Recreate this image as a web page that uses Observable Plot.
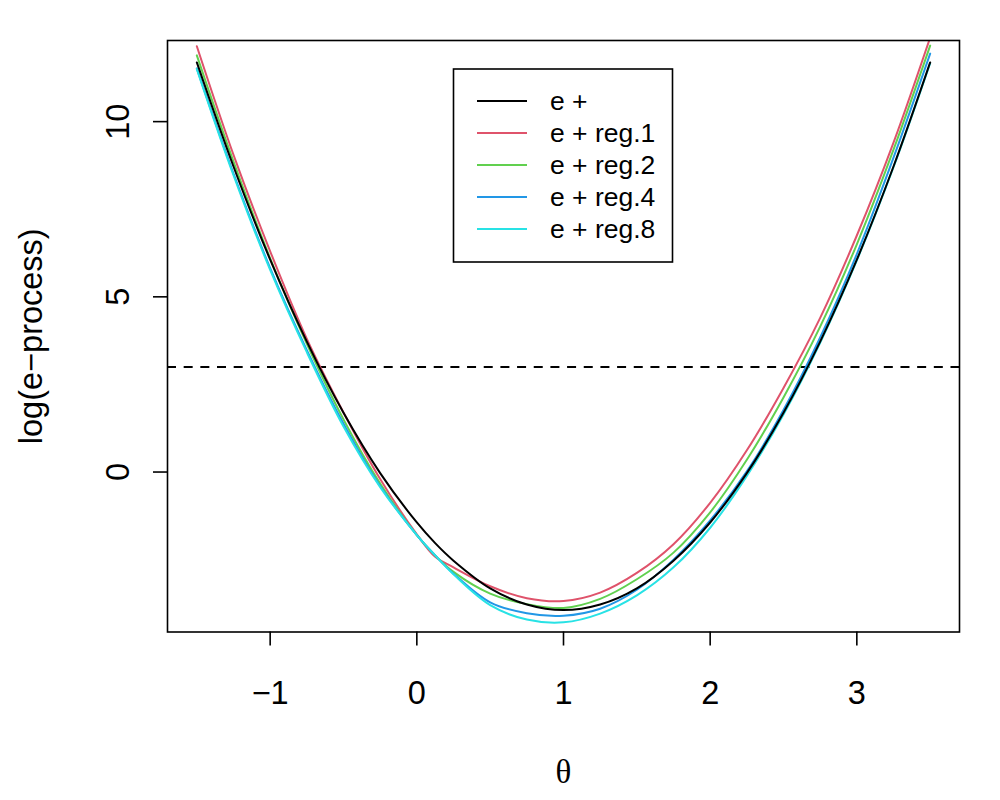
<!DOCTYPE html>
<html>
<head>
<meta charset="utf-8">
<script src="https://cdn.jsdelivr.net/npm/d3@7"></script>
<script src="https://cdn.jsdelivr.net/npm/@observablehq/plot@0.6"></script>
<style>
  html, body { margin: 0; padding: 0; background: #ffffff; }
  #wrap { position: relative; width: 1000px; height: 800px; }
  #wrap svg { display: block; }
  #legend { position: absolute; left: 0; top: 0; pointer-events: none; }
</style>
</head>
<body>
<div id="wrap"></div>
<script>
// ---- data ----
const theta = [-1.5, -1.25, -1, -0.75, -0.5, -0.25, 0, 0.125, 0.25, 0.5, 0.75, 1, 1.25, 1.5, 1.75, 2, 2.25, 2.5, 2.75, 3, 3.25, 3.5];

const ePlain = [11.69, 8.72, 6.06, 3.72, 1.69, -0.03, -1.44, -2.03, -2.53, -3.32, -3.78, -3.94, -3.78, -3.32, -2.53, -1.44, -0.03, 1.69, 3.72, 6.06, 8.72, 11.69];
const eReg1  = [12.15, 9.05, 6.30, 3.80, 1.70, -0.20, -1.78, -2.42, -2.72, -3.26, -3.60, -3.68, -3.44, -2.88, -2.06, -0.88, 0.62, 2.40, 4.40, 6.75, 9.40, 12.40];
const eReg2  = [11.89, 8.86, 6.10, 3.66, 1.50, -0.33, -1.80, -2.38, -2.85, -3.47, -3.77, -3.88, -3.62, -3.06, -2.30, -1.15, 0.35, 2.13, 4.15, 6.50, 9.20, 12.17];
const eReg4  = [11.52, 8.52, 5.82, 3.48, 1.38, -0.40, -1.80, -2.38, -2.90, -3.72, -4.03, -4.10, -3.90, -3.36, -2.50, -1.38, 0.02, 1.77, 3.84, 6.22, 8.97, 11.94];
const eReg8  = [11.50, 8.47, 5.77, 3.42, 1.30, -0.43, -1.80, -2.38, -2.92, -3.80, -4.21, -4.29, -4.04, -3.52, -2.72, -1.59, -0.11, 1.645, 3.69, 6.04, 8.70, 11.67];

const seriesNames  = ["e +", "e + reg.1", "e + reg.2", "e + reg.4", "e + reg.8"];
const seriesColors = ["#000000", "#DF536B", "#61D04F", "#2297E6", "#28E2E5"];
const seriesValues = [ePlain, eReg1, eReg2, eReg4, eReg8];
const drawOrder = [1, 2, 3, 4, 0];

const threshold = 3;
const xTicks = [-1, 0, 1, 2, 3];
const yTicks = [0, 5, 10];
const xLabel = "\u03b8";
const yLabel = "log(e\u2212process)";

// ---- build table ----
const rows = [];
for (const i of drawOrder) {
  seriesValues[i].forEach((v, j) => rows.push({series: seriesNames[i], theta: theta[j], value: v}));
}

// R-style axis limits: data range extended by 4%
const xr = d3.extent(theta), xpad = (xr[1] - xr[0]) * 0.04;
const yr = d3.extent(ePlain), ypad = (yr[1] - yr[0]) * 0.04;
const xDomain = [xr[0] - xpad, xr[1] + xpad];
const yDomain = [yr[0] - ypad, yr[1] + ypad];

const fmt = d => d < 0 ? "\u2212" + Math.abs(d) : String(d);
const FONT = "'Liberation Sans', Arial, Helvetica, sans-serif";
const FS = 26.5;     // legend text
const FSA = 32.5;    // axis text

const chart = Plot.plot({
  width: 1000,
  height: 800,
  marginLeft: 167,
  marginRight: 41,
  marginTop: 40,
  marginBottom: 168.5,
  style: {fontFamily: FONT, fontSize: FS + "px", background: "#ffffff", color: "#000"},
  x: {domain: xDomain, axis: null},
  y: {domain: yDomain, axis: null},
  color: {domain: seriesNames, range: seriesColors},
  marks: [
    Plot.ruleY([threshold], {y: d => d, stroke: "#000", strokeWidth: 2, strokeDasharray: "9,7.67"}),
    Plot.line(rows, {x: "theta", y: "value", z: "series", stroke: "series", strokeWidth: 2, curve: "catmull-rom", clip: true}),
    Plot.frame({stroke: "#000", strokeWidth: 1.6}),
    Plot.axisX({ticks: xTicks, tickSize: 14, tickFormat: () => "", label: null, stroke: "#000", strokeWidth: 1.6}),
    Plot.axisY({ticks: yTicks, tickSize: 14, tickFormat: () => "", label: null, stroke: "#000", strokeWidth: 1.6}),
    Plot.text(xTicks, {x: d => d, text: fmt, frameAnchor: "bottom", dy: 62, textAnchor: "middle", lineAnchor: "middle", fontSize: FSA, fill: "#000"}),
    Plot.text(yTicks, {y: d => d, text: fmt, frameAnchor: "left", dx: -49, rotate: -90, textAnchor: "middle", lineAnchor: "middle", fontSize: FSA, fill: "#000"}),
    Plot.text([yLabel], {text: d => d, frameAnchor: "left", dx: -136, rotate: -90, textAnchor: "middle", lineAnchor: "middle", fontSize: FSA, fill: "#000"}),
    Plot.text([xLabel], {text: d => d, frameAnchor: "bottom", dy: 140.5, textAnchor: "middle", lineAnchor: "middle", fontSize: 33, fontFamily: "'Liberation Serif', 'DejaVu Serif', serif", fill: "#000"})
  ]
});

const wrap = document.getElementById("wrap");
wrap.appendChild(chart);

// ---- legend (R-style box, top centre) ----
const lg = d3.select(wrap).append("svg")
  .attr("id", "legend")
  .attr("width", 1000).attr("height", 800);
const box = {x: 453.5, y: 69, w: 219, h: 193};
lg.append("rect")
  .attr("x", box.x).attr("y", box.y).attr("width", box.w).attr("height", box.h)
  .attr("fill", "#fff").attr("stroke", "#000").attr("stroke-width", 1.6);
seriesNames.forEach((name, i) => {
  const cy = box.y + 32 + i * 32;
  lg.append("line")
    .attr("x1", box.x + 23.5).attr("x2", box.x + 73.5)
    .attr("y1", cy).attr("y2", cy)
    .attr("stroke", seriesColors[i]).attr("stroke-width", 2);
  lg.append("text")
    .attr("x", box.x + 96.5).attr("y", cy).attr("dy", "0.35em")
    .attr("font-family", FONT).attr("font-size", FS)
    .attr("fill", "#000")
    .text(name);
});
</script>
</body>
</html>
